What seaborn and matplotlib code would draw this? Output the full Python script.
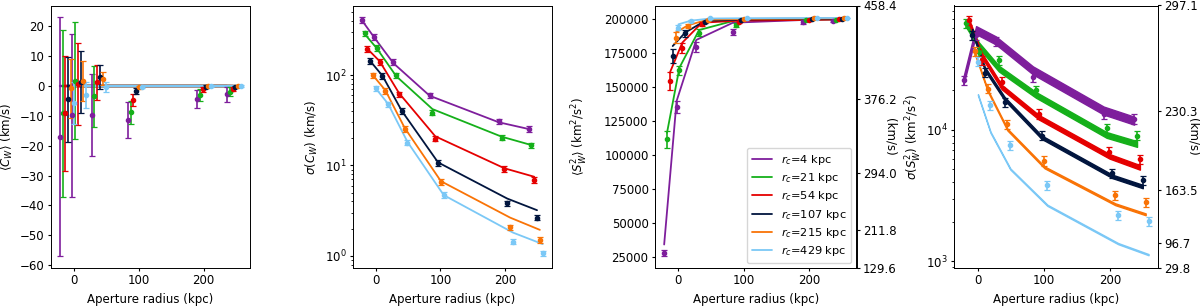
import numpy as np
import pandas as pd
import matplotlib
matplotlib.use("Agg")
import matplotlib.pyplot as plt
import seaborn as sns

# aperture radii (kpc) of the lightblue series; the others are dodged to the left
aperture = [0, 19, 49, 105, 212, 258]
r_core = [4, 21, 54, 107, 215, 429]
colors = ["xkcd:purple", "xkcd:green", "xkcd:red", "xkcd:navy", "xkcd:orange", "xkcd:lightblue"]

# <C_W> (km/s)
cw_mean = [[-17.0, -9.8, -9.7, -11.5, -4.3, -2.8],
           [-9.2, 1.8, -3.5, -8.8, -2.9, -1.9],
           [-9.2, 0.7, 1.2, -4.6, -1.1, -1.0],
           [-4.4, 1.4, 3.0, -1.6, -0.2, -0.3],
           [-0.8, 1.8, 2.5, -0.4, 0.1, 0.0],
           [-5.7, -3.0, -0.4, -0.2, 0.0, 0.0]]
cw_err = [[40, 27.3, 13.6, 6.0, 3.0, 2.5],
          [28, 19.6, 10.1, 3.8, 2.0, 1.5],
          [19.3, 13.8, 6.0, 2.0, 0.8, 0.7],
          [14.2, 10.4, 4.0, 1.0, 0.5, 0.4],
          [10.0, 6.7, 2.3, 0.5, 0.4, 0.3],
          [6.9, 4.5, 1.7, 0.3, 0.3, 0.2]]
cw_model = [0, 0, 0, 0, 0, 0]

# sigma(C_W) (km/s)
sig_cw = [[405, 265, 140, 59.6, 30.8, 25.5],
          [288, 200, 99, 38.4, 20.3, 16.7],
          [195, 140, 61, 19.8, 9.1, 6.9],
          [143, 98, 40, 10.7, 3.8, 2.65],
          [99, 66.5, 25.5, 6.6, 2.06, 1.5],
          [71, 47.4, 17.9, 4.7, 1.44, 1.07]]
sig_cw_model = [[405, 262, 135, 59, 30, 25.3],
                [285, 197, 97, 42, 20.8, 16.8],
                [195, 142, 63, 21, 9.3, 7.5],
                [143, 98, 40, 10.8, 4.3, 3.2],
                [99, 68, 26, 6.7, 2.65, 1.94],
                [71, 48, 18.2, 4.7, 1.81, 1.35]]
sig_cw_relerr = 0.07

# <S_W^2> (km^2/s^2)
s2_mean = [[27900, 135600, 179600, 190700, 198000, 198800],
           [111500, 162400, 190200, 195600, 199300, 199800],
           [154500, 179100, 196300, 198000, 199600, 199900],
           [173000, 189700, 198000, 199600, 200300, 200400],
           [186500, 195100, 199500, 200300, 200600, 200800],
           [193900, 198800, 200700, 200800, 201000, 201000]]
s2_err = [[2200, 4300, 3400, 2500, 1200, 1000],
          [6100, 3400, 2500, 1500, 800, 600],
          [6600, 3700, 1500, 800, 500, 400],
          [5200, 2500, 1000, 500, 400, 300],
          [3900, 1500, 800, 400, 300, 300],
          [2000, 1000, 500, 300, 300, 300]]
s2_model = [[34100, 139800, 184800, 197500, 199500, 199900],
            [116400, 164400, 192100, 199300, 199800, 200000],
            [160700, 182800, 197500, 199000, 199600, 199900],
            [180300, 190200, 198800, 199800, 200300, 200400],
            [190200, 195600, 199700, 200300, 200600, 200800],
            [196300, 199000, 200600, 200800, 201000, 201000]]

# sigma(S_W^2) (km^2/s^2)
sig_s2 = [[23800, 52500, 46900, 25300, 13250, 12140],
          [64700, 39300, 33900, 20000, 10300, 9040],
          [68500, 33900, 23200, 13250, 6820, 6000],
          [52700, 27300, 16300, 9040, 4690, 4140],
          [39700, 20600, 11100, 5820, 3180, 2830],
          [33000, 15400, 7680, 3790, 2240, 2020]]
sig_s2_model = [[23800, 57500, 48000, 28400, 14050, 11780],
                [63000, 44000, 29300, 18500, 9160, 7820],
                [66000, 37000, 21200, 12500, 6300, 5190],
                [57000, 29300, 17300, 8800, 4430, 3710],
                [38000, 20000, 10050, 5190, 2720, 2280],
                [18500, 9600, 5040, 2670, 1365, 1125]]
sig_s2_relerr = 0.08
sig_s2_band = [0.07, 0.05, 0.04, 0.03, 0.016, 0.01]

sns.set_style("ticks", {"axes.edgecolor": "black", "xtick.color": "black",
                        "ytick.color": "black", "text.color": "black",
                        "axes.labelcolor": "black"})
plt.rcParams['font.family'] = ['DejaVu Sans']
plt.rcParams.update({
    'font.size': 8.5,
    'axes.labelsize': 8.5,
    'xtick.labelsize': 8.5,
    'ytick.labelsize': 8.5,
    'legend.fontsize': 8.2,
    'xtick.major.size': 2.4,
    'ytick.major.size': 2.4,
    'xtick.minor.size': 1.4,
    'ytick.minor.size': 1.4,
    'xtick.major.pad': 2.2,
    'ytick.major.pad': 2.2,
    'axes.linewidth': 0.7,
})

dodge = 4.35
labels = [f"$r_c$={r} kpc" for r in r_core]


def xpos(i):
    return np.array(aperture) - dodge * (len(r_core) - 1 - i)


def model_frame(values):
    rows = []
    for i, lab in enumerate(labels):
        vals = values[i] if np.ndim(values) > 1 else [values[i]] * len(aperture)
        for x, v in zip(xpos(i), vals):
            rows.append({"x": x, "y": v, "model": lab})
    return pd.DataFrame(rows)


fig = plt.figure(figsize=(12, 3.07), dpi=100)
W, H = 1200, 307
bot = 39 / H
hgt = 262.5 / H
ax1 = fig.add_axes([50.7 / W, bot, 199.5 / W, hgt])
ax2 = fig.add_axes([352.7 / W, bot, 199 / W, hgt])
ax3 = fig.add_axes([655 / W, bot, 201.5 / W, hgt])
ax4 = fig.add_axes([954.3 / W, bot, 203.5 / W, hgt])

eb = dict(fmt="o", ms=3, capsize=2, elinewidth=1.2, capthick=0.9)

# panel 1: mean C_W
sns.lineplot(data=model_frame(cw_model), x="x", y="y", hue="model", palette=colors,
             hue_order=labels, estimator=None, sort=False, lw=1.7, ax=ax1, legend=False)
for i, c in enumerate(colors):
    ax1.errorbar(xpos(i), cw_mean[i], yerr=cw_err[i], color=c, **eb)
ax1.set_yticks(np.arange(-60, 21, 10))
ax1.set_ylabel(r"$\langle C_W\rangle$ (km/s)")

# panel 2: sigma C_W
sns.lineplot(data=model_frame(sig_cw_model), x="x", y="y", hue="model", palette=colors,
             hue_order=labels, estimator=None, sort=False, lw=1.3, ax=ax2, legend=False)
for i, c in enumerate(colors):
    y = np.array(sig_cw[i])
    ax2.errorbar(xpos(i), y, yerr=y * sig_cw_relerr, color=c, **eb)
ax2.set_yscale("log")
ax2.relim()
ax2.autoscale_view()
ax2.set_ylabel(r"$\sigma(C_W)$ (km/s)")

# panel 3: mean S_W^2
sns.lineplot(data=model_frame(s2_model), x="x", y="y", hue="model", palette=colors,
             hue_order=labels, estimator=None, sort=False, lw=1.3, ax=ax3)
for i, c in enumerate(colors):
    ax3.errorbar(xpos(i), s2_mean[i], yerr=s2_err[i], color=c, **eb)
ax3.set_ylim(129.55 ** 2, 458.45 ** 2)
ax3.set_ylabel(r"$\langle S^2_W\rangle$ (km$^2$/s$^2$)")
sns.move_legend(ax3, "lower right", title=None, frameon=True,
                labelspacing=0.38, handlelength=1.8, borderaxespad=0.45)

# panel 4: sigma S_W^2, model as a band
ax4.set_yscale("log")
for i, c in enumerate(colors):
    m = np.array(sig_s2_model[i])
    ax4.fill_between(xpos(i), m * (1 - sig_s2_band[i]), m * (1 + sig_s2_band[i]),
                     color=c, lw=1.0)
    y = np.array(sig_s2[i])
    ax4.errorbar(xpos(i), y, yerr=y * sig_s2_relerr, color=c, **eb)
ax4.set_ylim(29.84 ** 2, 297.14 ** 2)
ax4.set_ylabel(r"$\sigma(S^2_W)$ (km$^2$/s$^2$)")

# left y-label positions (right edge of the rotated text, axes coords)
for ax, xl in ((ax1, -0.179), (ax2, -0.164), (ax3, -0.323), (ax4, -0.149)):
    ax.yaxis.set_label_coords(xl, 0.5)

# right axes in km/s
for ax, xr in ((ax3, 1.135), (ax4, 1.14)):
    lo, hi = ax.get_ylim()
    tw = ax.twinx()
    tw.set_ylim(lo, hi)
    v = np.linspace(np.sqrt(lo), np.sqrt(hi), 5)
    tw.set_yticks(v ** 2)
    tw.set_yticklabels([f"{t:.1f}" for t in v])
    tw.set_ylabel("(km/s)", rotation=270, va="bottom")
    tw.yaxis.set_label_coords(xr, 0.5)
    for s in tw.spines.values():
        s.set_linewidth(0.7)

for ax in (ax1, ax2, ax3, ax4):
    ax.set_xlabel("Aperture radius (kpc)")
    ax.set_xticks([0, 100, 200])
    for s in ax.spines.values():
        s.set_visible(True)

fig.savefig("out.png", dpi=100)
